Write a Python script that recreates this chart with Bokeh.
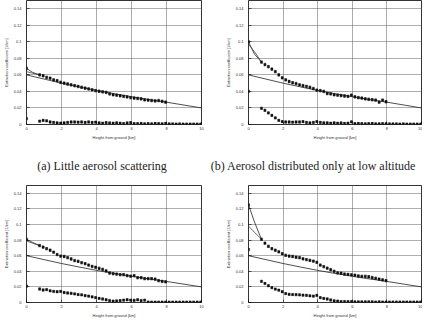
from bokeh.plotting import figure
from bokeh.layouts import column, row
from bokeh.models import (ColumnDataSource, Whisker, TeeHead, FixedTicker,
                          CustomJSTickFormatter, Div)
from bokeh.embed import file_html
from bokeh.resources import INLINE

# ---------------- data ----------------
x_ticks = [0, 2, 4, 6, 8, 10]
y_ticks = [0, 0.02, 0.04, 0.06, 0.08, 0.10, 0.12, 0.14]
x_title = "Height from ground [km]"
y_title = "Extinction coefficient [1/km]"
caption_a = "(a) Little aerosol scattering"
caption_b = "(b) Aerosol distributed only at low altitude"

first_gate = 0.75   # km, first retrieved range gate
gate_step = 0.2     # km between gates

# molecular (Rayleigh) model curve
mol_h = [0, 1, 2, 3, 4, 5, 6, 7, 8, 9, 10]
mol_ext = [0.060, 0.055, 0.050, 0.0455, 0.0412, 0.0372, 0.0336, 0.0302, 0.027, 0.0235, 0.020]

# near-ground model lines
near_h = [0, 0.35, 0.75]

# (a) little aerosol scattering
a_total = [0.060, 0.059, 0.057, 0.056, 0.054, 0.053, 0.051, 0.050, 0.049, 0.048,
           0.047, 0.046, 0.045, 0.044, 0.043, 0.042, 0.041, 0.0402, 0.0395, 0.0388,
           0.037, 0.036, 0.0355, 0.0348, 0.034, 0.0333, 0.0325, 0.032, 0.0315, 0.031,
           0.0298, 0.0295, 0.029, 0.0285, 0.029, 0.028, 0.027]
a_aerosol = [0.004, 0.005, 0.0045, 0.003, 0.0025, 0.002, 0.0015, 0.002, 0.0025, 0.003,
             0.003, 0.0028, 0.003, 0.0025, 0.003, 0.0025, 0.0028, 0.002, 0.0015, 0.0022,
             0.0018, 0.0015, 0.002, 0.0015, 0.001, 0.0018, 0.0022, 0.001, 0.001, 0.0012,
             0.0008, 0.001, 0.0008, 0.0012, 0.001, 0.0008, 0.0012, 0.0006, 0.0006, 0.0005,
             0.0006, 0.0005, 0.0005, 0.0005, 0.0005, 0.0005, 0.0005]
a_ground = [0.068, 0.007]
a_near1 = [0.068, 0.063, 0.060]
a_near2 = [0.064, 0.062, 0.060]

# (b) aerosol only at low altitude
b_total = [0.0755, 0.0725, 0.070, 0.067, 0.064, 0.060, 0.0565, 0.054, 0.052, 0.0505,
           0.0495, 0.048, 0.047, 0.046, 0.045, 0.0435, 0.0415, 0.041, 0.040, 0.0375,
           0.037, 0.036, 0.0355, 0.035, 0.0345, 0.034, 0.0355, 0.0335, 0.0325, 0.032,
           0.031, 0.0305, 0.030, 0.0295, 0.027, 0.0295, 0.0275]
b_aerosol = [0.0196, 0.0172, 0.014, 0.011, 0.008, 0.005, 0.0035, 0.003, 0.003, 0.0028,
             0.003, 0.003, 0.0035, 0.0025, 0.002, 0.0025, 0.0035, 0.0025, 0.002, 0.002,
             0.0015, 0.002, 0.0015, 0.0018, 0.0012, 0.0015, 0.0032, 0.001, 0.0012, 0.001,
             0.0008, 0.001, 0.0012, 0.0008, 0.0008, 0.001, 0.0008, 0.0006, 0.0006, 0.0006,
             0.0005, 0.0006, 0.0005, 0.0005, 0.0005, 0.0005, 0.0005]
b_ground = [0.100, 0.040]
b_near1 = [0.100, 0.085, 0.0755]
b_near2 = [0.097, 0.088, 0.0755]

# (c)
c_total = [0.073, 0.071, 0.069, 0.067, 0.0645, 0.0615, 0.0595, 0.059, 0.0575, 0.0558,
           0.0538, 0.0528, 0.051, 0.0498, 0.048, 0.0462, 0.0452, 0.0438, 0.0425, 0.0405,
           0.0378, 0.0369, 0.0365, 0.0357, 0.0357, 0.0345, 0.0337, 0.0345, 0.0318, 0.0318,
           0.0306, 0.0306, 0.0306, 0.030, 0.028, 0.027, 0.0265]
c_aerosol = [0.0173, 0.016, 0.0165, 0.015, 0.0142, 0.0138, 0.0142, 0.0128, 0.0122, 0.0118,
             0.011, 0.0102, 0.0098, 0.0088, 0.0082, 0.0072, 0.0062, 0.0052, 0.0045, 0.0035,
             0.0025, 0.0018, 0.002, 0.0025, 0.003, 0.0035, 0.003, 0.0028, 0.0035, 0.0025,
             0.003, 0.0006, 0.0005, 0.0005, 0.0005, 0.0005, 0.0005, 0.0005, 0.0005, 0.0005,
             0.0005, 0.0005, 0.0005, 0.0005, 0.0005, 0.0005, 0.0005]
c_ground = [0.081, 0.021]
c_near1 = [0.081, 0.077, 0.073]
c_near2 = [0.079, 0.076, 0.073]

# (d)
d_total = [0.081, 0.076, 0.072, 0.069, 0.067, 0.065, 0.0625, 0.0605, 0.0595, 0.059,
           0.058, 0.0575, 0.056, 0.055, 0.054, 0.053, 0.0515, 0.048, 0.046, 0.044,
           0.042, 0.040, 0.038, 0.0375, 0.0365, 0.036, 0.0355, 0.035, 0.034, 0.0335,
           0.0335, 0.033, 0.032, 0.031, 0.030, 0.029, 0.028]
d_aerosol = [0.0272, 0.0244, 0.0215, 0.019, 0.0172, 0.0158, 0.0138, 0.0115, 0.0105, 0.0102,
             0.010, 0.0098, 0.0094, 0.0092, 0.0086, 0.0082, 0.0092, 0.0062, 0.0052, 0.0045,
             0.0032, 0.0022, 0.0018, 0.0012, 0.0012, 0.001, 0.0012, 0.0008, 0.0008, 0.0008,
             0.0008, 0.0008, 0.0008, 0.0006, 0.0008, 0.0006, 0.0006, 0.0006, 0.0006, 0.0006,
             0.0006, 0.0006, 0.0006, 0.0006, 0.0006, 0.0006, 0.0006]
d_ground = [0.125, 0.068]
d_near1 = [0.125, 0.103, 0.081]
d_near2 = [0.098, 0.090, 0.081]

total_err = 0.0015
aerosol_err = 0.0012

# ---------------- drawing ----------------
def series_source(values, ground, err):
    h = [0.0] + [first_gate + gate_step * i for i in range(len(values))]
    v = [ground] + list(values)
    return ColumnDataSource(dict(h=h, v=v, lo=[y - err for y in v], hi=[y + err for y in v]))


def panel(total, aerosol, ground, near1, near2, width, height, left, right, top, bottom):
    p = figure(width=width, height=height, x_range=(0, 10), y_range=(0, 0.15),
               output_backend="svg", toolbar_location=None,
               min_border_left=left, min_border_right=right,
               min_border_top=top, min_border_bottom=bottom)
    p.outline_line_color = "black"
    p.outline_line_width = 0.8
    p.background_fill_color = "white"
    p.border_fill_color = "white"

    p.xaxis.ticker = FixedTicker(ticks=x_ticks)
    p.yaxis.ticker = FixedTicker(ticks=y_ticks)
    p.yaxis.formatter = CustomJSTickFormatter(
        code="return tick.toFixed(2).replace(/0+$/, '').replace(/\\.$/, '');")
    for ax in (p.xaxis[0], p.yaxis[0]):
        ax.axis_line_color = None
        ax.major_tick_in = 3
        ax.major_tick_out = 0
        ax.major_tick_line_color = "black"
        ax.major_tick_line_width = 0.6
        ax.minor_tick_line_color = None
        ax.major_label_text_font = "Liberation Sans"
        ax.major_label_text_font_size = "4px"
        ax.major_label_text_color = "#333333"
        ax.axis_label_text_font = "Liberation Sans"
        ax.axis_label_text_font_size = "4px"
        ax.axis_label_text_font_style = "normal"
        ax.axis_label_text_color = "#333333"
        ax.axis_label_standoff = 2
    p.xaxis.major_label_standoff = 2
    p.yaxis.major_label_standoff = 5
    p.xaxis.axis_label = x_title
    p.yaxis.axis_label = y_title

    p.xgrid.ticker = FixedTicker(ticks=x_ticks)
    p.ygrid.ticker = FixedTicker(ticks=y_ticks)
    p.grid.grid_line_color = "#5a5a5a"
    p.grid.grid_line_dash = "1 1"
    p.grid.grid_line_width = 1

    p.line(mol_h, mol_ext, line_color="#222222", line_width=0.8)
    p.line(near_h, near1, line_color="#222222", line_width=0.8)
    p.line(near_h, near2, line_color="#444444", line_width=0.8)

    for vals, g, err in ((total, ground[0], total_err), (aerosol, ground[1], aerosol_err)):
        src = series_source(vals, g, err)
        p.add_layout(Whisker(source=src, base="h", upper="hi", lower="lo",
                             line_color="#333333", line_width=0.6,
                             upper_head=TeeHead(size=2, line_color="#333333", line_width=0.6),
                             lower_head=TeeHead(size=2, line_color="#333333", line_width=0.6)))
        p.scatter("h", "v", source=src, marker="square", size=2.3,
                  fill_color="#111111", line_color="#111111", line_width=0.3)
    return p


pa = panel(a_total, a_aerosol, a_ground, a_near1, a_near2, 222, 142, 22, 21, 0, 13)
pb = panel(b_total, b_aerosol, b_ground, b_near1, b_near2, 200, 142, 22, 1, 0, 13)
pc = panel(c_total, c_aerosol, c_ground, c_near1, c_near2, 222, 136, 22, 21, 1, 10)
pd = panel(d_total, d_aerosol, d_ground, d_near1, d_near2, 200, 136, 22, 1, 1, 10)

cap_styles = {"text-align": "center",
              "font-family": "'Liberation Serif', 'DejaVu Serif', serif",
              "font-size": "12px", "line-height": "14px", "padding-top": "17px",
              "white-space": "nowrap", "color": "#222222"}
div_a = Div(text=caption_a, width=204, height=42, margin=(0, 0, 0, 0),
            styles=dict(cap_styles, width="204px"))
div_b = Div(text=caption_b, width=218, height=42, margin=(0, 0, 0, 0),
            styles=dict(cap_styles, width="218px"))

layout = column(row(pa, pb, spacing=0), row(div_a, div_b, spacing=0),
                row(pc, pd, spacing=0), spacing=0)

open("out.html", "w").write(file_html(layout, INLINE))
